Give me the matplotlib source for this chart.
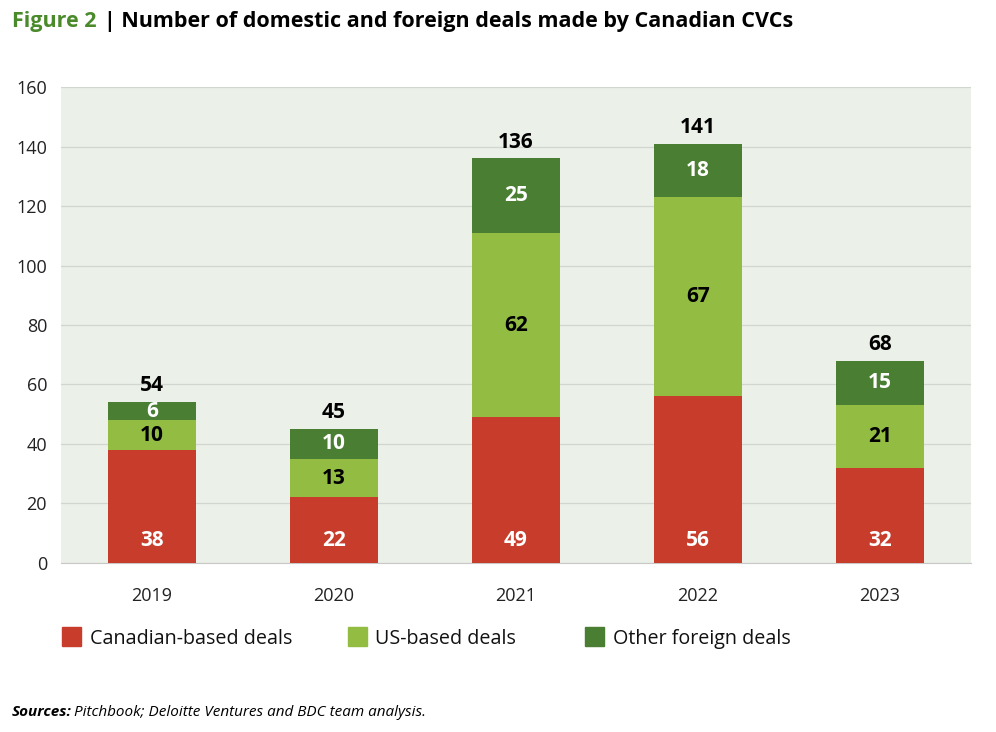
import matplotlib.pyplot as plt
from matplotlib.patches import Rectangle
import numpy as np

plt.rcParams['font.family'] = ['Open Sans', 'DejaVu Sans']

years = ['2019', '2020', '2021', '2022', '2023']
canadian = [38, 22, 49, 56, 32]
us = [10, 13, 62, 67, 21]
other = [6, 10, 25, 18, 15]
totals = [54, 45, 136, 141, 68]

c_red = '#C83C2C'
c_light = '#92BC42'
c_dark = '#4A7E32'

fig = plt.figure(figsize=(9.96, 7.32), dpi=100)
ax = fig.add_axes([0.0612, 0.231, 0.9137, 0.650])
ax.set_facecolor('#EBF0E8')

x = np.arange(len(years))
w = 0.483
can = np.array(canadian)
usa = np.array(us)
oth = np.array(other)
ax.bar(x, can, w, color=c_red, zorder=3)
ax.bar(x, usa, w, bottom=can, color=c_light, zorder=3)
ax.bar(x, oth, w, bottom=can + usa, color=c_dark, zorder=3)

fs = 15
for i in range(len(years)):
    ax.text(x[i], 7.5, str(canadian[i]), ha='center', va='center',
            color='white', fontsize=fs, fontweight='bold', zorder=4)
    ax.text(x[i], can[i] + usa[i] / 2, str(us[i]), ha='center', va='center',
            color='black', fontsize=fs, fontweight='bold', zorder=4)
    ax.text(x[i], can[i] + usa[i] + oth[i] / 2, str(other[i]), ha='center', va='center',
            color='white', fontsize=fs, fontweight='bold', zorder=4)
    ax.text(x[i], totals[i] + 2, str(totals[i]), ha='center', va='bottom',
            color='black', fontsize=fs, fontweight='bold', zorder=4)

ax.set_xlim(-0.5, 4.5)
ax.set_ylim(0, 160)
ax.set_yticks(range(0, 161, 20))
ax.set_xticks(x)
ax.set_xticklabels(years)
ax.grid(axis='y', color='#D2D6D0', linewidth=0.9, zorder=0)
for s in ['top', 'right', 'left']:
    ax.spines[s].set_visible(False)
ax.spines['bottom'].set_color('#C8C8C8')
ax.tick_params(axis='both', length=0, labelsize=13, colors='#222222')
ax.tick_params(axis='x', pad=17)
ax.tick_params(axis='y', pad=10)

# title
t1 = fig.text(0.012, 0.970, 'Figure 2', color='#4A8A2A', fontsize=15.5,
              fontweight='bold', va='center')
fig.canvas.draw()
bb = t1.get_window_extent()
fig.text(bb.x1 / fig.bbox.width + 0.008, 0.970,
         '| Number of domestic and foreign deals made by Canadian CVCs',
         color='black', fontsize=15.5, fontweight='bold', va='center')

# legend
labels = ['Canadian-based deals', 'US-based deals', 'Other foreign deals']
colors = [c_red, c_light, c_dark]
lx = [0.062, 0.349, 0.587]
for xx, lab, col in zip(lx, labels, colors):
    fig.patches.append(Rectangle((xx, 0.117), 0.019, 0.026, transform=fig.transFigure,
                                 color=col, figure=fig))
    fig.text(xx + 0.028, 0.127, lab, fontsize=14.2, va='center', color='#111111')

fig.text(0.012, 0.027, 'Sources:', fontsize=11, fontweight='bold', style='italic',
         va='center')
fig.text(0.074, 0.027, 'Pitchbook; Deloitte Ventures and BDC team analysis.',
         fontsize=11, style='italic', va='center')

fig.savefig('out.png', dpi=100)
